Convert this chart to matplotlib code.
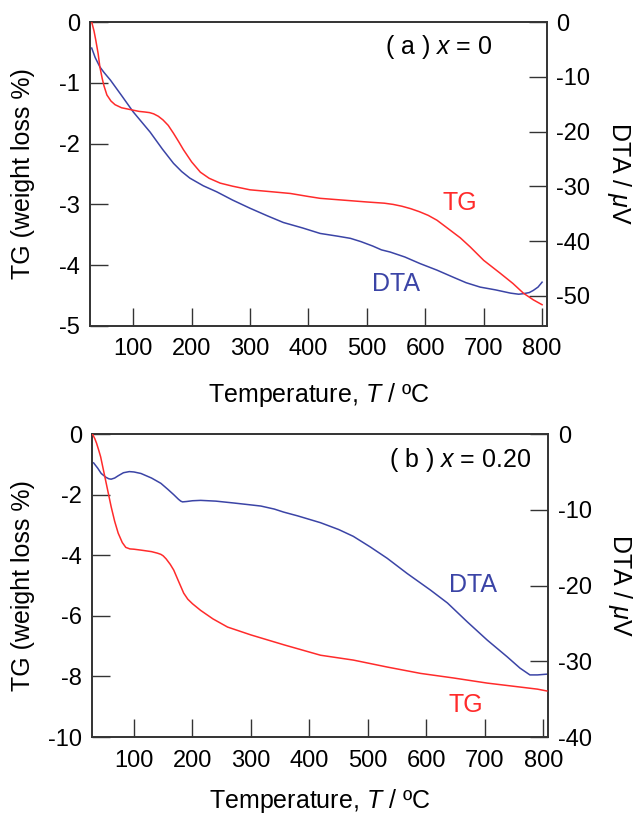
import matplotlib.pyplot as plt

plt.rcParams['font.family'] = ['Liberation Sans', 'DejaVu Sans']
plt.rcParams['mathtext.fontset'] = 'custom'
plt.rcParams['mathtext.rm'] = 'Liberation Sans'
plt.rcParams['mathtext.it'] = 'Liberation Sans:italic'
plt.rcParams['axes.unicode_minus'] = False

RED = '#ff2b2b'
BLUE = '#3b44a6'
FRAME = '#333333'

# (a) x = 0
t_tg_a = [29, 33, 36, 40, 43, 47, 50, 55, 62, 69, 80, 90, 100, 110, 120, 128, 135, 143, 151, 160, 169,
          178, 186, 200, 215, 230, 249, 270, 300, 335, 369, 400, 420, 460, 500, 530, 545, 560, 575, 590,
          605, 620, 638, 660, 677, 700, 728, 750, 768, 785, 800]
tg_a = [0.0, -0.15, -0.3, -0.52, -0.74, -0.93, -1.05, -1.2, -1.3, -1.36, -1.41, -1.43, -1.45, -1.47,
        -1.48, -1.49, -1.51, -1.55, -1.61, -1.7, -1.83, -1.97, -2.1, -2.3, -2.47, -2.57, -2.65, -2.7,
        -2.76, -2.79, -2.82, -2.87, -2.9, -2.93, -2.96, -2.98, -3.0, -3.03, -3.07, -3.12, -3.18, -3.26,
        -3.39, -3.55, -3.7, -3.92, -4.13, -4.3, -4.46, -4.57, -4.65]
t_dta_a = [29, 35, 43, 50, 61, 80, 100, 129, 150, 169, 183, 197, 220, 243, 270, 300, 330, 357, 390, 420,
           450, 472, 490, 510, 525, 540, 565, 591, 620, 648, 670, 694, 720, 746, 760, 768, 778, 785, 793, 800]
dta_a = [-4.75, -6.5, -8.2, -9.2, -10.6, -13.4, -16.4, -20.1, -23.2, -25.8, -27.3, -28.5, -29.9, -31.0,
         -32.5, -34.0, -35.4, -36.6, -37.6, -38.6, -39.1, -39.5, -40.1, -40.9, -41.6, -42.0, -42.9, -44.1,
         -45.3, -46.6, -47.6, -48.4, -48.9, -49.5, -49.7, -49.6, -49.4, -49.0, -48.4, -47.5]

# (b) x = 0.20
t_tg_b = [29, 33, 36, 40, 43, 49, 55, 61, 67, 73, 80, 86, 93, 100, 112, 130, 140, 146, 150, 155, 162,
          168, 176, 185, 192, 200, 214, 235, 260, 300, 357, 419, 475, 533, 590, 646, 704, 760, 790, 806]
tg_b = [0.0, -0.15, -0.3, -0.55, -0.75, -1.3, -1.85, -2.4, -2.88, -3.27, -3.58, -3.74, -3.79, -3.8,
        -3.83, -3.88, -3.93, -3.97, -4.02, -4.12, -4.3, -4.49, -4.85, -5.25, -5.45, -5.6, -5.82, -6.1,
        -6.37, -6.63, -6.96, -7.3, -7.46, -7.69, -7.9, -8.05, -8.22, -8.35, -8.42, -8.48]
t_dta_b = [31, 38, 44, 52, 57, 61, 67, 73, 82, 92, 100, 112, 130, 146, 158, 168, 176, 180, 183, 190, 200,
           214, 240, 271, 300, 317, 340, 356, 380, 419, 450, 475, 504, 533, 567, 607, 636, 670, 704, 738,
           760, 777, 790, 806]
dta_b = [-3.8, -4.5, -5.2, -5.7, -5.9, -5.95, -5.8, -5.5, -5.1, -4.95, -5.0, -5.2, -5.8, -6.5, -7.3,
         -8.0, -8.6, -8.85, -8.95, -8.9, -8.8, -8.75, -8.85, -9.1, -9.35, -9.5, -9.9, -10.3, -10.8,
         -11.7, -12.6, -13.5, -14.9, -16.4, -18.4, -20.6, -22.3, -24.8, -27.2, -29.4, -30.9, -31.8,
         -31.8, -31.7]

fig = plt.figure(figsize=(6.38, 8.16), dpi=100)


def panel(rect, t_tg, tg, t_dta, dta, tg_lim, tg_ticks, dta_lim, dta_ticks, title, title_xy,
          tg_xy, dta_xy, xlim, xlabelpad, ylab_x):
    ax = fig.add_axes(rect)
    ax2 = ax.twinx()
    ax.plot(t_tg, tg, color=RED, lw=1.1, zorder=3)
    ax2.plot(t_dta, dta, color=BLUE, lw=1.1)
    ax.set_zorder(ax2.get_zorder() + 1)
    ax.patch.set_visible(False)

    ax.set_xlim(*xlim)
    ax.set_ylim(*tg_lim)
    ax.set_yticks(tg_ticks)
    ax.set_xticks(range(100, 801, 100))
    ax2.set_ylim(*dta_lim)
    ax2.set_yticks(dta_ticks)

    for a in (ax, ax2):
        for s in a.spines.values():
            s.set_color(FRAME)
            s.set_linewidth(1.2)
        a.tick_params(direction='in', length=13, width=1.0, color=FRAME, labelsize=17, pad=7)
    ax.tick_params(axis='x', pad=9)

    ax.set_ylabel('TG (weight loss %)', fontsize=18)
    ax.yaxis.set_label_coords(ylab_x[0], 0.5)
    ax2.set_ylabel(r'DTA / $\mathit{\mu}$V', fontsize=18, rotation=-90, va='bottom')
    ax2.yaxis.set_label_coords(ylab_x[1], 0.5)
    ax.set_xlabel(r'Temperature, $\mathit{T}$ / ºC', fontsize=18, labelpad=xlabelpad)

    ax.text(title_xy[0], title_xy[1], title, transform=ax.transAxes, ha='right', va='center', fontsize=18)
    ax.text(tg_xy[0], tg_xy[1], 'TG', color=RED, ha='center', va='center', fontsize=18)
    ax.text(dta_xy[0], dta_xy[1], 'DTA', color=BLUE, ha='center', va='center', fontsize=18)
    return ax


panel([0.141, 0.6005, 0.716, 0.3725], t_tg_a, tg_a, t_dta_a, dta_a,
      (-5, 0), range(-5, 1), (-55.5, 0), range(-50, 1, 10),
      r'( a ) $\mathit{x}$ = 0', (0.882, 0.918), (660, -2.98), (550, -4.31), (26, 808), 15,
      (-0.12, 1.128))

panel([0.144, 0.0968, 0.715, 0.3712], t_tg_b, tg_b, t_dta_b, dta_b,
      (-10, 0), range(-10, 1, 2), (-40, 0), range(-40, 1, 10),
      r'( b ) $\mathit{x}$ = 0.20', (0.963, 0.914), (668, -8.94), (680, -4.98), (28, 808), 11,
      (-0.125, 1.127))

fig.savefig('out.png', dpi=100)
